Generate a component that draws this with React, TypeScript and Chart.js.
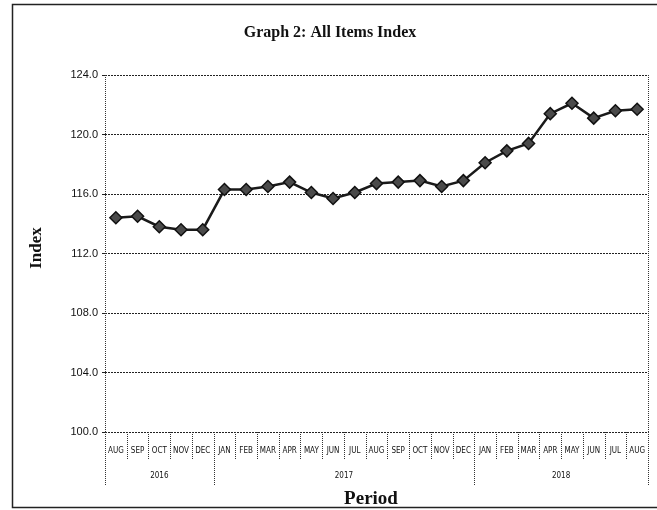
import React, { useEffect, useRef } from "react";
import { Chart, registerables } from "chart.js";

Chart.register(...registerables);

const months = [
  "AUG", "SEP", "OCT", "NOV", "DEC",
  "JAN", "FEB", "MAR", "APR", "MAY", "JUN", "JUL", "AUG", "SEP", "OCT", "NOV", "DEC",
  "JAN", "FEB", "MAR", "APR", "MAY", "JUN", "JUL", "AUG",
];
const indexValues = [
  114.4, 114.5, 113.8, 113.6, 113.6,
  116.3, 116.3, 116.5, 116.8, 116.1, 115.7, 116.1, 116.7, 116.8, 116.9, 116.5, 116.9,
  118.1, 118.9, 119.4, 121.4, 122.1, 121.1, 121.6, 121.7,
];
const years = ["2016", "2017", "2018"];
const yearStarts = [0, 5, 17, 25];
const yTicks = [100, 104, 108, 112, 116, 120, 124];

const chartTitle = "Graph 2: All Items Index";
const yTitle = "Index";
const xTitle = "Period";

const decorPlugin = {
  id: "decor",
  beforeDraw(chart: any) {
    const ctx = chart.ctx;
    ctx.save();
    ctx.fillStyle = "#ffffff";
    ctx.fillRect(0, 0, chart.width, chart.height);
    ctx.strokeStyle = "#222";
    ctx.lineWidth = 1.5;
    ctx.strokeRect(12.5, 4.5, 660, 503);
    ctx.restore();
  },
  afterDraw(chart: any) {
    const ctx = chart.ctx;
    const xs = chart.scales.x;
    const area = chart.chartArea;
    const n = months.length;
    const step = (xs.getPixelForValue(n - 1) - xs.getPixelForValue(0)) / (n - 1);
    const boundary = (i: number) => xs.getPixelForValue(0) + (i - 0.5) * step;
    ctx.save();
    ctx.strokeStyle = "#333";
    ctx.lineWidth = 1;
    ctx.setLineDash([1, 1]);
    for (const bx of [Math.round(area.left) + 0.5, Math.round(area.right) + 0.5]) {
      ctx.beginPath();
      ctx.moveTo(bx, area.top);
      ctx.lineTo(bx, area.bottom);
      ctx.stroke();
    }
    for (let i = 0; i <= n; i++) {
      const isYear = yearStarts.includes(i);
      const x = Math.round(boundary(i)) + 0.5;
      ctx.beginPath();
      ctx.moveTo(x, area.bottom);
      ctx.lineTo(x, area.bottom + (isYear ? 53 : 27));
      ctx.stroke();
    }
    ctx.setLineDash([]);
    ctx.fillStyle = "#111";
    ctx.textAlign = "center";
    ctx.textBaseline = "middle";
    ctx.font = "8px 'Liberation Sans Narrow', 'DejaVu Sans Condensed', sans-serif";
    for (let k = 0; k < years.length; k++) {
      const cx = (boundary(yearStarts[k]) + boundary(yearStarts[k + 1])) / 2;
      ctx.fillText(years[k], cx, area.bottom + 44);
    }
    ctx.font = "bold 16px 'Liberation Serif', serif";
    ctx.fillText(chartTitle, 330, 33);
    ctx.font = "bold 19px 'Liberation Serif', serif";
    ctx.fillText(xTitle, 371, 499);
    ctx.translate(37, 248);
    ctx.rotate(-Math.PI / 2);
    ctx.font = "bold 17px 'Liberation Serif', serif";
    ctx.fillText(yTitle, 0, 0);
    ctx.restore();
  },
};

export default function App() {
  const ref = useRef<HTMLCanvasElement | null>(null);
  useEffect(() => {
    if (!ref.current) return;
    const chart = new Chart(ref.current, {
      type: "line",
      data: {
        labels: months,
        datasets: [
          {
            data: indexValues,
            borderColor: "#1a1a1a",
            borderWidth: 2.5,
            pointStyle: "rectRot",
            pointRadius: 6,
            pointBackgroundColor: "#4a4a4a",
            pointBorderColor: "#111",
            pointBorderWidth: 1.5,
            tension: 0,
          },
        ],
      },
      options: {
        responsive: false,
        animation: false,
        layout: { padding: { left: 12, top: 75, right: 9, bottom: 0 } },
        plugins: {
          legend: { display: false },
          tooltip: { enabled: false },
          title: { display: false },
        },
        scales: {
          x: {
            type: "category",
            offset: true,
            grid: { display: false, offset: true },
            border: { display: false },
            ticks: {
              autoSkip: false,
              maxRotation: 0,
              padding: 6,
              color: "#111",
              font: { size: 8, family: "'Liberation Sans Narrow', 'DejaVu Sans Condensed', sans-serif" },
            },
            afterFit: (s: any) => {
              s.height = 78;
            },
          },
          y: {
            min: 100,
            max: 124,
            afterBuildTicks: (s: any) => {
              s.ticks = yTicks.map((v) => ({ value: v }));
            },
            grid: { color: "#222", lineWidth: 1, tickLength: 3, drawTicks: true },
            border: { display: false, color: "#333", dash: [2, 1] },
            ticks: {
              padding: 4,
              color: "#111",
              font: { size: 11, family: "'Liberation Sans Narrow', 'Liberation Sans', sans-serif" },
              callback: (v: any) => Number(v).toFixed(1),
            },
            afterFit: (s: any) => {
              s.width = 93;
            },
          },
        },
      },
      plugins: [decorPlugin],
    });
    return () => chart.destroy();
  }, []);
  return (
    <div style={{ position: "fixed", left: 0, top: 0 }}>
      <canvas ref={ref} width={657} height={510} style={{ display: "block" }} />
    </div>
  );
}
